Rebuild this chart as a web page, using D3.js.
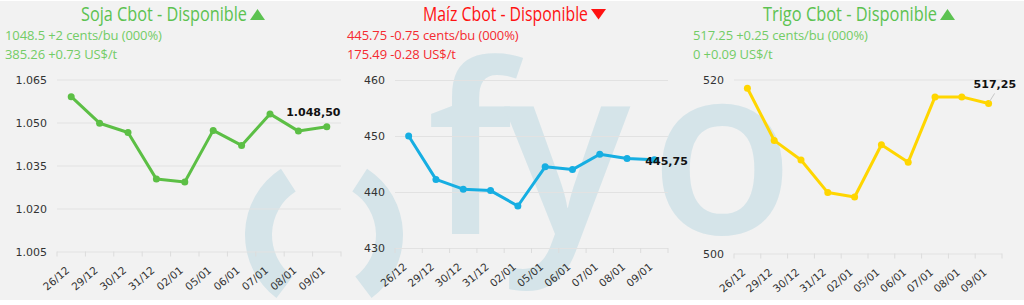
<!DOCTYPE html>
<html>
<head>
<meta charset="utf-8">
<script src="https://cdn.jsdelivr.net/npm/d3@7"></script>
<style>
  html, body { margin: 0; padding: 0; background: #fff; }
  svg { display: block; }
</style>
</head>
<body>
<svg id="chart" width="1024" height="305"></svg>
<script>
var fechas = ["26/12", "29/12", "30/12", "31/12", "02/01", "05/01", "06/01", "07/01", "08/01", "09/01"];

var soja = [1059, 1049.75, 1046.5, 1030.25, 1029.25, 1047.25, 1042, 1053, 1047, 1048.5];
var maiz = [450, 442.25, 440.5, 440.25, 437.5, 444.5, 444, 446.75, 446, 445.75];
var trigo = [519, 513, 510.75, 507, 506.5, 512.5, 510.5, 518, 518, 517.25];

var sojaTicks = [1005, 1020, 1035, 1050, 1065];
var maizTicks = [430, 440, 450, 460];
var trigoTicks = [500, 520];

var titulos = ["Soja Cbot - Disponible", "Maíz Cbot - Disponible", "Trigo Cbot - Disponible"];
var tendencias = ["up", "down", "up"];
var lineas1 = ["1048.5 +2 cents/bu (000%)", "445.75 -0.75 cents/bu (000%)", "517.25 +0.25 cents/bu (000%)"];
var lineas2 = ["385.26 +0.73 US$/t", "175.49 -0.28 US$/t", "0 +0.09 US$/t"];

// layout of each small chart
var paneles = [
  { serie: soja, ticks: sojaTicks, linea: "#5cbf45", left: 57, right: 341, top: 79.5, bottom: 251.5, titleX: 81, titleW: 166, subX: 5, label: "arriba" },
  { serie: maiz, ticks: maizTicks, linea: "#16aee2", left: 395, right: 668, top: 80, bottom: 248, titleX: 423, titleW: 165, subX: 347, label: "derecha" },
  { serie: trigo, ticks: trigoTicks, linea: "#ffd600", left: 734, right: 1002, top: 79.5, bottom: 253.5, titleX: 763, titleW: 174, subX: 693, label: "guia" }
];

var colores = {
  up: { titulo: "#5cc251", texto: "#72cc66" },
  down: { titulo: "#ff1212", texto: "#f52a30" }
};

var es = d3.formatLocale({ decimal: ",", thousands: ".", grouping: [3], currency: ["$", ""] });
var fmtEje = es.format(",.0f"),
  fmtValor = es.format(",.2f");

var svg = d3.select("#chart");

svg.append("rect")
  .attr("x", 0)
  .attr("y", 1)
  .attr("width", 1024)
  .attr("height", 299)
  .attr("fill", "#f2f2f2");

// watermark
function drawWatermark() {
  var g = svg.append("g").attr("fill", "#d5e4e9");
  var arc = d3.arc().innerRadius(52).outerRadius(79);
  g.selectAll("path")
    .data([[217, 327], [33, 143]])
    .enter().append("path")
      .attr("transform", "translate(324,235)")
      .attr("d", function(d) {
        return arc({ startAngle: d[0] * Math.PI / 180, endAngle: d[1] * Math.PI / 180 });
      });

  g.selectAll("text")
    .data([{ t: "f", x: 427 }, { t: "y", x: 504 }, { t: "o", x: 650 }])
    .enter().append("text")
      .attr("x", function(d) { return d.x; })
      .attr("y", 234)
      .attr("font-family", "Open Sans")
      .attr("font-weight", 600)
      .attr("font-size", 236)
      .text(function(d) { return d.t; });
}

drawWatermark();

function drawPanel(p, i) {
  var x = d3.scaleBand().domain(fechas).range([p.left, p.right]);
  var y = d3.scaleLinear().domain(d3.extent(p.ticks)).range([p.bottom, p.top]);
  var cx = function(d, j) { return x(fechas[j]) + x.bandwidth() / 2; };
  var tono = colores[tendencias[i]];

  var g = svg.append("g");

  // titles
  g.append("text")
    .attr("x", p.titleX)
    .attr("y", 20.5)
    .attr("font-family", "Open Sans, sans-serif")
    .attr("font-size", 19.5)
    .attr("textLength", p.titleW)
    .attr("lengthAdjust", "spacingAndGlyphs")
    .attr("fill", tono.titulo)
    .text(titulos[i]);

  var tx = p.titleX + p.titleW + 3;
  var tri = tendencias[i] == "up"
    ? [[tx, 20], [tx + 15, 20], [tx + 7.5, 9]]
    : [[tx, 9], [tx + 15, 9], [tx + 7.5, 19.5]];
  g.append("path")
    .attr("d", d3.line()(tri) + "Z")
    .attr("fill", tono.titulo);

  g.selectAll("text.sub")
    .data([lineas1[i], lineas2[i]])
    .enter().append("text")
      .attr("class", "sub")
      .attr("x", p.subX)
      .attr("y", function(d, j) { return 39.5 + j * 19; })
      .attr("font-family", "Open Sans, sans-serif")
      .attr("font-size", 13)
      .attr("letter-spacing", -0.1)
      .attr("fill", tono.texto)
      .text(function(d) { return d; });

  // y axis with gridlines
  var yAxis = g.append("g")
    .attr("transform", "translate(" + p.left + ",0)")
    .call(d3.axisLeft(y).tickValues(p.ticks).tickFormat(fmtEje).tickSize(-(p.right - p.left)).tickPadding(10));
  yAxis.select(".domain").remove();
  yAxis.selectAll("line").attr("stroke", "#e2e2e2");
  yAxis.selectAll("text")
    .attr("font-family", "DejaVu Sans, Verdana, sans-serif")
    .attr("font-size", 11)
    .attr("fill", "#333");

  // category boundary ticks
  g.selectAll("line.tick")
    .data(fechas.concat(["fin"]))
    .enter().append("line")
      .attr("class", "tick")
      .attr("x1", function(d, j) { return p.left + j * x.step(); })
      .attr("x2", function(d, j) { return p.left + j * x.step(); })
      .attr("y1", p.bottom)
      .attr("y2", p.bottom + 5)
      .attr("stroke", "#dcdcdc");

  g.selectAll("text.cat")
    .data(fechas)
    .enter().append("text")
      .attr("class", "cat")
      .attr("text-anchor", "end")
      .attr("transform", function(d, j) {
        return "translate(" + (cx(d, j) - 1) + "," + (p.bottom + 20) + ") rotate(-40)";
      })
      .attr("font-family", "DejaVu Sans, Verdana, sans-serif")
      .attr("font-size", 10.5)
      .attr("fill", "#333")
      .text(function(d) { return d; });

  // line and markers
  g.append("path")
    .datum(p.serie)
    .attr("fill", "none")
    .attr("stroke", p.linea)
    .attr("stroke-width", 3)
    .attr("stroke-linejoin", "round")
    .attr("d", d3.line().x(cx).y(function(d) { return y(d); }));

  g.selectAll("circle")
    .data(p.serie)
    .enter().append("circle")
      .attr("cx", cx)
      .attr("cy", function(d) { return y(d); })
      .attr("r", 3.5)
      .attr("fill", p.linea);

  // last value label
  var n = p.serie.length - 1,
    lx = cx(p.serie[n], n),
    ly = y(p.serie[n]);
  var etiqueta = g.append("text")
    .attr("font-family", "DejaVu Sans, Verdana, sans-serif")
    .attr("font-weight", "bold")
    .attr("font-size", 11)
    .attr("fill", "#111")
    .text(fmtValor(p.serie[n]));

  if (p.label == "arriba") {
    etiqueta.attr("x", lx - 13.5).attr("y", ly - 11).attr("text-anchor", "middle");
  } else if (p.label == "derecha") {
    etiqueta.attr("x", lx - 9).attr("y", ly + 5);
  } else {
    g.append("line")
      .attr("x1", lx + 1).attr("y1", ly - 2)
      .attr("x2", lx + 6).attr("y2", ly - 10)
      .attr("stroke", "#c8c8c8");
    etiqueta.attr("x", lx - 15).attr("y", ly - 15.5);
  }
}

paneles.forEach(drawPanel);
</script>
</body>
</html>
